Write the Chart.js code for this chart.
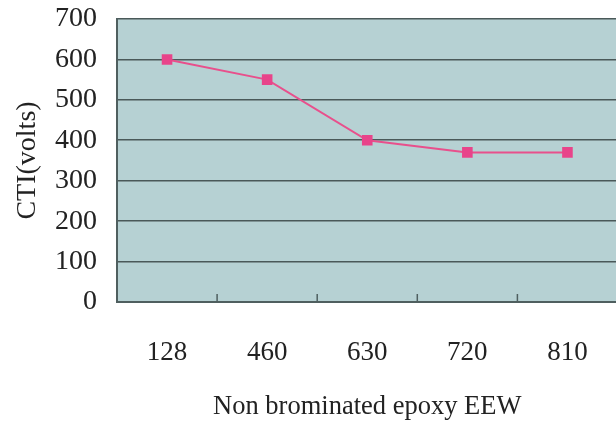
<!DOCTYPE html>
<html>
<head>
<meta charset="utf-8">
<script src="https://cdn.jsdelivr.net/npm/chart.js@4.4.0/dist/chart.umd.min.js"></script>
<style>
  html, body { margin: 0; padding: 0; background: #fff; overflow: hidden; }
  #wrap { width: 625px; height: 423px; }
</style>
</head>
<body>
<div id="wrap"><canvas id="chart" width="625" height="423"></canvas></div>
<script>
// data
var categories = ['128', '460', '630', '720', '810'];
var ctiValues = [600, 550, 400, 370, 370];
var yTicks = [0, 100, 200, 300, 400, 500, 600, 700];

var serif = '"Liberation Serif", "Times New Roman", serif';

// plot background + little upward tick marks on the bottom axis
var plotDecor = {
  id: 'plotDecor',
  beforeDraw: function (chart) {
    var a = chart.chartArea, c = chart.ctx;
    c.save();
    c.fillStyle = '#b6d1d3';
    c.fillRect(a.left, a.top, a.right - a.left, a.bottom - a.top);
    c.restore();
  },
  afterDatasetsDraw: function (chart) {
    var a = chart.chartArea, c = chart.ctx, x = chart.scales.x;
    c.save();
    c.strokeStyle = '#4f5f5f';
    c.lineWidth = 1.5;
    for (var i = 1; i < categories.length; i++) {
      var px = (x.getPixelForValue(i - 1) + x.getPixelForValue(i)) / 2;
      c.beginPath();
      c.moveTo(px, a.bottom);
      c.lineTo(px, a.bottom - 8);
      c.stroke();
    }
    c.restore();
  }
};

var ctx = document.getElementById('chart').getContext('2d');
var chart = new Chart(ctx, {
  type: 'line',
  data: {
    labels: categories,
    datasets: [{
      label: 'CTI',
      data: ctiValues,
      borderColor: '#e8508c',
      backgroundColor: '#e8448a',
      borderWidth: 2,
      pointStyle: 'rect',
      pointRadius: 7.5,
      pointBorderWidth: 0,
      tension: 0
    }]
  },
  options: {
    responsive: false,
    animation: false,
    layout: { padding: { top: 19, right: 1, left: 0, bottom: 0 } },
    plugins: { legend: { display: false }, tooltip: { enabled: false } },
    scales: {
      x: {
        offset: true,
        grid: { display: false, drawTicks: false },
        border: { display: true, color: '#4f5f5f', width: 2 },
        ticks: { color: '#222', font: { family: serif, size: 27 }, padding: 35 },
        title: {
          display: true,
          text: 'Non brominated epoxy EEW',
          color: '#222',
          font: { family: serif, size: 26.5 },
          padding: { top: 0, bottom: 0 }
        },
        afterFit: function (s) { s.height = 121; s.paddingLeft = 0; s.paddingRight = 0; }
      },
      y: {
        min: 0,
        max: 700,
        afterBuildTicks: function (s) { s.ticks = yTicks.map(function (v) { return { value: v }; }); },
        grid: { color: '#4a5959', lineWidth: 1.6, drawTicks: false },
        border: { display: true, color: '#4f5f5f', width: 2 },
        ticks: { color: '#222', font: { family: serif, size: 28 }, padding: 20 },
        title: {
          display: true,
          text: 'CTI(volts)',
          color: '#222',
          font: { family: serif, size: 28 },
          padding: { top: 11, bottom: 0 }
        },
        afterFit: function (s) { s.width = 117; s.paddingTop = 0; s.paddingBottom = 0; }
      }
    }
  },
  plugins: [plotDecor]
});
</script>
</body>
</html>
